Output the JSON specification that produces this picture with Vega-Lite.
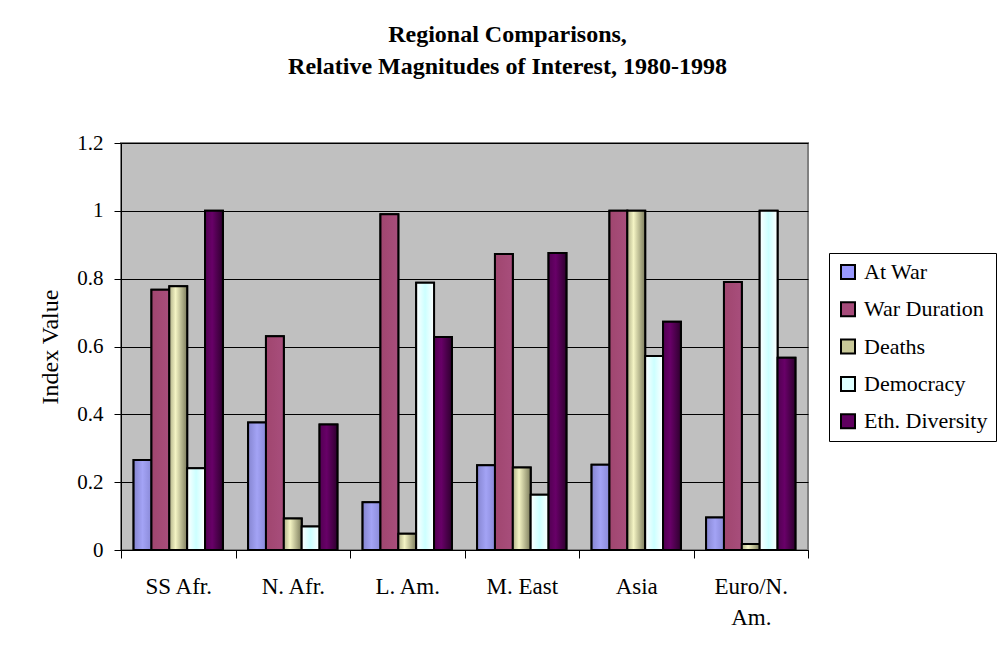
{
  "$schema": "https://vega.github.io/schema/vega-lite/v6.json",
  "autosize": "none",
  "width": 687,
  "height": 407,
  "padding": {"left": 121, "top": 143, "right": 194, "bottom": 107},
  "background": "white",
  "title": {
    "text": ["Regional Comparisons,", "Relative Magnitudes of Interest, 1980-1998"],
    "font": "Liberation Serif",
    "fontSize": 24,
    "fontWeight": "bold",
    "lineHeight": 32,
    "color": "black",
    "anchor": "middle",
    "dx": 43,
    "offset": 53
  },
  "config": {
    "view": {"stroke": "#808080", "strokeWidth": 2, "fill": "#C0C0C0"},
    "font": "Liberation Serif",
    "legend": {"labelFont": "Liberation Serif"}
  },
  "data": {
    "values": [
      {"region": "SS Afr.", "series": "At War", "value": 0.265},
      {"region": "SS Afr.", "series": "War Duration", "value": 0.767},
      {"region": "SS Afr.", "series": "Deaths", "value": 0.778},
      {"region": "SS Afr.", "series": "Democracy", "value": 0.241},
      {"region": "SS Afr.", "series": "Eth. Diversity", "value": 1.0},
      {"region": "N. Afr.", "series": "At War", "value": 0.376},
      {"region": "N. Afr.", "series": "War Duration", "value": 0.63},
      {"region": "N. Afr.", "series": "Deaths", "value": 0.093},
      {"region": "N. Afr.", "series": "Democracy", "value": 0.069},
      {"region": "N. Afr.", "series": "Eth. Diversity", "value": 0.37},
      {"region": "L. Am.", "series": "At War", "value": 0.141},
      {"region": "L. Am.", "series": "War Duration", "value": 0.99},
      {"region": "L. Am.", "series": "Deaths", "value": 0.048},
      {"region": "L. Am.", "series": "Democracy", "value": 0.788},
      {"region": "L. Am.", "series": "Eth. Diversity", "value": 0.628},
      {"region": "M. East", "series": "At War", "value": 0.25},
      {"region": "M. East", "series": "War Duration", "value": 0.873},
      {"region": "M. East", "series": "Deaths", "value": 0.243},
      {"region": "M. East", "series": "Democracy", "value": 0.163},
      {"region": "M. East", "series": "Eth. Diversity", "value": 0.876},
      {"region": "Asia", "series": "At War", "value": 0.251},
      {"region": "Asia", "series": "War Duration", "value": 1.0},
      {"region": "Asia", "series": "Deaths", "value": 1.0},
      {"region": "Asia", "series": "Democracy", "value": 0.572},
      {"region": "Asia", "series": "Eth. Diversity", "value": 0.673},
      {"region": "Euro/N. Am.", "series": "At War", "value": 0.096},
      {"region": "Euro/N. Am.", "series": "War Duration", "value": 0.79},
      {"region": "Euro/N. Am.", "series": "Deaths", "value": 0.018},
      {"region": "Euro/N. Am.", "series": "Democracy", "value": 1.0},
      {"region": "Euro/N. Am.", "series": "Eth. Diversity", "value": 0.567}
    ]
  },
  "encoding": {
    "x": {
      "field": "region",
      "type": "nominal",
      "sort": ["SS Afr.", "N. Afr.", "L. Am.", "M. East", "Asia", "Euro/N. Am."],
      "scale": {"paddingInner": 0, "paddingOuter": 0},
      "axis": {
        "title": null,
        "labelAngle": 0,
        "labelFont": "Liberation Serif",
        "labelFontSize": 23,
        "labelColor": "black",
        "labelLineHeight": 31,
        "labelPadding": 17,
        "labelBaseline": "top",
        "labelExpr": "datum.label == 'Euro/N. Am.' ? ['Euro/N.', 'Am.'] : datum.label",
        "tickBand": "extent",
        "tickSize": 8,
        "tickColor": "black",
        "domainColor": "black",
        "domainWidth": 1,
        "grid": false
      }
    },
    "xOffset": {
      "field": "series",
      "type": "nominal",
      "sort": ["At War", "War Duration", "Deaths", "Democracy", "Eth. Diversity"],
      "scale": {"paddingInner": 0, "paddingOuter": 0.705}
    },
    "y": {
      "field": "value",
      "type": "quantitative",
      "scale": {"domain": [0, 1.2], "nice": false},
      "axis": {
        "title": "Index Value",
        "titleFont": "Liberation Serif",
        "titleFontSize": 24,
        "titleFontWeight": "normal",
        "titleColor": "black",
        "titlePadding": 14,
        "values": [0, 0.2, 0.4, 0.6, 0.8, 1, 1.2],
        "format": ".1~f",
        "labelFont": "Liberation Serif",
        "labelFontSize": 21,
        "labelColor": "black",
        "labelPadding": 11,
        "tickSize": 7,
        "tickColor": "black",
        "domainColor": "black",
        "gridColor": "black",
        "gridWidth": 1,
        "gridOpacity": 1
      }
    }
  },
  "layer": [
    {
      "mark": {"type": "bar", "stroke": "black", "strokeWidth": 2},
      "encoding": {
        "fill": {
          "field": "series",
          "type": "nominal",
          "sort": ["At War", "War Duration", "Deaths", "Democracy", "Eth. Diversity"],
          "scale": {
            "domain": ["At War", "War Duration", "Deaths", "Democracy", "Eth. Diversity"],
            "range": ["#9999FF", "#A64B7A", "#C8C898", "#DDFFFF", "#600060"]
          },
          "legend": {
            "title": null,
            "orient": "none",
            "legendX": 708,
            "legendY": 110,
            "symbolType": "square",
            "symbolSize": 196,
            "symbolStrokeColor": "black",
            "symbolStrokeWidth": 2,
            "labelFont": "Liberation Serif",
            "labelFontSize": 22,
            "labelColor": "black",
            "labelOffset": 5,
            "labelLimit": 220,
            "rowPadding": 15.3,
            "padding": 8,
            "strokeColor": "black",
            "fillColor": "white"
          }
        }
      }
    },
    {
      "mark": {"type": "bar", "stroke": "black", "strokeWidth": 2},
      "encoding": {
        "fill": {
          "condition": [
            {"test": "datum.series == 'At War'", "value": {"gradient": "linear", "x1": 0, "y1": 0, "x2": 1, "y2": 0, "stops": [{"offset": 0, "color": "#8585D0"}, {"offset": 0.5, "color": "#A3A3F5"}, {"offset": 1, "color": "#8A8AD8"}]}},
            {"test": "datum.series == 'War Duration'", "value": {"gradient": "linear", "x1": 0, "y1": 0, "x2": 1, "y2": 0, "stops": [{"offset": 0, "color": "#A0466F"}, {"offset": 1, "color": "#A84E7C"}]}},
            {"test": "datum.series == 'Deaths'", "value": {"gradient": "linear", "x1": 0, "y1": 0, "x2": 1, "y2": 0, "stops": [{"offset": 0, "color": "#B0B088"}, {"offset": 0.35, "color": "#F4F4C4"}, {"offset": 1, "color": "#7C7C5C"}]}},
            {"test": "datum.series == 'Democracy'", "value": {"gradient": "linear", "x1": 0, "y1": 0, "x2": 1, "y2": 0, "stops": [{"offset": 0, "color": "#FFFFFF"}, {"offset": 0.5, "color": "#CCFFFF"}, {"offset": 1, "color": "#FFFFFF"}]}}
          ],
          "value": {"gradient": "linear", "x1": 0, "y1": 0, "x2": 1, "y2": 0, "stops": [{"offset": 0, "color": "#520052"}, {"offset": 0.4, "color": "#680068"}, {"offset": 1, "color": "#2E002E"}]}
        }
      }
    }
  ]
}
